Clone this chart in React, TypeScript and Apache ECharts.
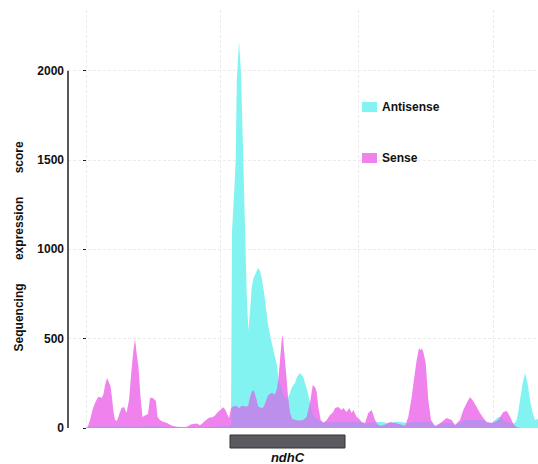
import React, { useEffect, useRef } from "react";
import * as echarts from "echarts";

// Genomic positions (relative units) shared by both strands
const positions = [
  0, 2, 4, 7, 9, 12, 14, 16, 17.5, 19, 21, 23, 24.5, 26, 27.5, 29, 31, 33, 35.5, 38,
  40.5, 43, 45.5, 47.5, 49, 51, 52.5, 54.5, 56.5, 59, 62, 64, 66, 68, 70, 71.5, 74, 77, 81, 84,
  87, 91, 95, 99, 102, 104, 107, 111, 114, 117, 120, 123, 127, 129, 131, 133, 135, 137, 139, 141,
  143, 145, 146, 148, 149.7, 150.8, 153, 155, 157.3, 159, 160.7, 162.3, 164, 165.7, 167.5, 170, 172, 174, 176, 178,
  180, 182, 184, 186, 189, 191, 192.3, 194, 195.7, 196.7, 198.3, 200.7, 202.3, 204, 206, 209, 211, 214, 217.3, 220.7,
  224, 226.7, 229, 230.7, 232.3, 234.7, 237.3, 240.7, 244, 247.3, 249, 252.3, 255.7, 257.3, 260.7, 263.3, 265.7, 267.3, 270.7, 273.3,
  275.7, 279, 282.3, 285.7, 289, 292.3, 295.7, 300.7, 304, 309, 314, 319, 322.3, 325.7, 328.3, 330.7, 333, 334.5, 336, 337.3,
  339.7, 342.3, 345, 349, 352, 355.7, 360.7, 365.7, 369, 374, 377.3, 380.7, 384, 387.3, 390.7, 394, 397.3, 400.7, 405.7, 409,
  412.3, 415, 417.3, 420.7, 424, 426.7, 429, 430.7, 432.5, 434, 436.7, 439, 441.3, 444, 446.7, 449, 452,
];

const sense = [
  0, 10, 45, 110, 140, 174, 172, 170, 190, 240, 280, 255, 235, 170, 90, 45, 40, 73, 112, 118,
  84, 157, 325, 440, 498, 400, 342, 174, 62, 70, 78, 168, 170, 162, 150, 62, 45, 35, 28, 18,
  11, 7, 5, 5, 10, 18, 22, 25, 15, 30, 45, 58, 62, 70, 84, 95, 105, 116, 105, 80,
  56, 110, 118, 120, 125, 120, 110, 120, 125, 118, 120, 125, 170, 200, 213, 170, 120, 115, 110, 120,
  150, 180, 190, 196, 185, 220, 269, 381, 493, 521, 420, 269, 157, 84, 50, 45, 42, 40, 45, 62,
  140, 240, 230, 202, 118, 45, 28, 45, 73, 90, 112, 118, 101, 112, 90, 112, 84, 101, 62, 50,
  34, 28, 84, 101, 45, 17, 11, 22, 34, 28, 20, 11, 62, 174, 286, 381, 448, 435, 445, 426,
  364, 157, 45, 11, 20, 34, 56, 45, 17, 45, 101, 140, 174, 150, 118, 84, 56, 34, 28, 34,
  45, 70, 90, 95, 65, 30, 11, 5, 2, 0, 0, 0, 0, 0, 0, 0, 0,
];

const antisense = [
  0, 3, 5, 8, 8, 8, 8, 8, 8, 8, 8, 8, 8, 8, 8, 8, 8, 8, 8, 8,
  8, 8, 8, 8, 8, 8, 8, 8, 8, 8, 10, 10, 10, 10, 10, 8, 8, 8, 6, 6,
  5, 5, 5, 5, 5, 5, 5, 5, 5, 6, 6, 6, 8, 8, 8, 8, 10, 10, 10, 10,
  10, 20, 1100, 1300, 1500, 1950, 2163, 1990, 1500, 1120, 750, 549, 650, 790, 840, 870, 896, 880, 830, 760,
  670, 580, 520, 470, 398, 350, 286, 250, 215, 200, 175, 165, 174, 196, 230, 252, 286, 308, 285, 220,
  145, 75, 55, 50, 45, 40, 34, 32, 32, 32, 35, 35, 35, 35, 35, 35, 35, 35, 35, 35,
  30, 25, 30, 30, 30, 34, 34, 30, 28, 34, 35, 30, 30, 32, 35, 35, 35, 35, 35, 35,
  35, 35, 30, 10, 15, 25, 30, 30, 15, 30, 45, 45, 45, 45, 45, 45, 45, 30, 28, 45,
  62, 62, 45, 35, 30, 25, 30, 45, 100, 157, 252, 308, 260, 157, 84, 45, 50,
];

const seriesNames = ["Antisense", "Sense"];
const yTicks = [0, 500, 1000, 1500, 2000];
const verticalGrid = [0, 134, 272, 407];
const geneName = "ndhC";
const geneStart = 144;
const geneEnd = 259;
const yTitleWords = ["Sequencing", "expression", "score"];

const CYAN = "#82F3F1";
const PINK = "#EF82EC";
const LAVENDER = "#BD8FEC";
const FONT = "'Liberation Sans', Arial, Helvetica, sans-serif";
const X_MIN = -18;
const X_MAX = 452;
const Y_MAX = 2340;

export default function App() {
  const ref = useRef<HTMLDivElement>(null);

  useEffect(() => {
    document.body.style.margin = "0";
    const chart = echarts.init(ref.current!, null, { renderer: "svg" });

    const antiData = positions.map((x, i) => [x, antisense[i]]);
    const senseData = positions.map((x, i) => [x, sense[i]]);
    const overlapData = positions.map((x, i) => [x, Math.min(sense[i], antisense[i])]);

    const gridStyle = { color: "#ebebeb", width: 1, type: [3, 2] as any };
    const gap = "\u00a0".repeat(7);

    const option: any = {
      animation: false,
      backgroundColor: "#ffffff",
      grid: { left: 68, right: 0, top: 10, bottom: 36, containLabel: false },
      legend: {
        orient: "vertical",
        left: 362,
        top: 101,
        itemGap: 39,
        itemWidth: 15,
        itemHeight: 10,
        icon: "rect",
        padding: 0,
        z: 10,
        selectedMode: false,
        data: seriesNames,
        textStyle: { fontFamily: FONT, fontSize: 12, fontWeight: "bold", color: "#111" },
      },
      xAxis: {
        type: "value",
        min: X_MIN,
        max: X_MAX,
        show: false,
      },
      yAxis: {
        type: "value",
        min: 0,
        max: Y_MAX,
        interval: 500,
        axisLine: { show: false },
        splitLine: { show: false },
        axisTick: {
          show: true,
          customValues: yTicks,
          length: 3,
          lineStyle: { color: "#222", width: 1 },
        },
        axisLabel: {
          customValues: yTicks,
          formatter: (v: number) => (yTicks.indexOf(v) >= 0 ? String(v) : ""),
          margin: 4,
          fontFamily: FONT,
          fontSize: 12,
          fontWeight: "bold",
          color: "#111",
        },
      },
      series: [
        {
          name: "guides",
          type: "line",
          data: [[0, 0]],
          symbol: "none",
          lineStyle: { opacity: 0 },
          silent: true,
          z: 0,
          markLine: {
            silent: true,
            z: 0,
            symbol: ["none", "none"],
            label: { show: false },
            animation: false,
            data: [
              ...verticalGrid.map((v) => ({ xAxis: v, lineStyle: gridStyle })),
              ...yTicks.filter((v) => v > 0).map((v) => ({ yAxis: v, lineStyle: gridStyle })),
              [
                { coord: [X_MIN, 0], lineStyle: { color: "#222", width: 1.5, type: "solid" } },
                { coord: [X_MIN, yTicks[yTicks.length - 1]] },
              ],
            ],
          },
        },
        {
          name: seriesNames[0],
          type: "line",
          data: antiData,
          symbol: "none",
          color: CYAN,
          lineStyle: { width: 0 },
          areaStyle: { color: CYAN, opacity: 1 },
          z: 2,
          silent: true,
        },
        {
          name: seriesNames[1],
          type: "line",
          data: senseData,
          symbol: "none",
          color: PINK,
          lineStyle: { width: 0 },
          areaStyle: { color: PINK, opacity: 1 },
          z: 3,
          silent: true,
        },
        {
          name: "overlap",
          type: "line",
          data: overlapData,
          symbol: "none",
          color: LAVENDER,
          lineStyle: { width: 0 },
          areaStyle: { color: LAVENDER, opacity: 1 },
          z: 4,
          silent: true,
        },
      ],
    };

    chart.setOption(option);

    const p0 = chart.convertToPixel({ gridIndex: 0 }, [geneStart, 0]) as number[];
    const p1 = chart.convertToPixel({ gridIndex: 0 }, [geneEnd, 0]) as number[];
    const yTop = chart.convertToPixel({ gridIndex: 0 }, [0, yTicks[yTicks.length - 1]]) as number[];

    chart.setOption({
      graphic: [
        {
          type: "rect",
          shape: { x: p0[0], y: p0[1] + 7, width: p1[0] - p0[0], height: 13 },
          style: { fill: "#5b5a60", stroke: "#333", lineWidth: 1 },
          silent: true,
        },
        {
          type: "text",
          x: (p0[0] + p1[0]) / 2,
          y: p0[1] + 29,
          style: {
            text: geneName,
            fontFamily: FONT,
            fontSize: 13,
            fontWeight: "bold",
            fontStyle: "italic",
            fill: "#111",
            align: "center",
            verticalAlign: "middle",
          },
          silent: true,
        },
        {
          type: "text",
          x: 19,
          y: (p0[1] + yTop[1]) / 2 - 3,
          rotation: Math.PI / 2,
          style: {
            text: yTitleWords.join(gap),
            fontFamily: FONT,
            fontSize: 12,
            fontWeight: "bold",
            fill: "#111",
            align: "center",
            verticalAlign: "middle",
          },
          silent: true,
        },
      ],
    });

    return () => chart.dispose();
  }, []);

  return (
    <div
      ref={ref}
      style={{ position: "absolute", left: 0, top: 0, width: 538, height: 464 }}
    />
  );
}
